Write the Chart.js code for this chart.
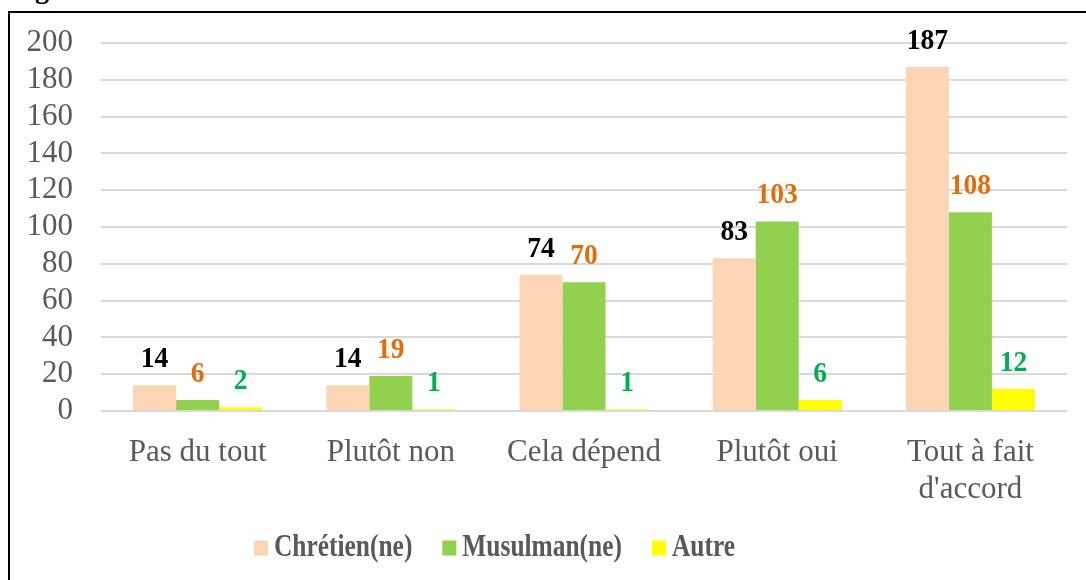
<!DOCTYPE html>
<html>
<head>
<meta charset="utf-8">
<script src="https://cdn.jsdelivr.net/npm/chart.js@4/dist/chart.umd.min.js"></script>
<style>
  html, body { margin: 0; padding: 0; background: #fff; width: 1086px; height: 580px; overflow: hidden; }
  #frame { position: absolute; left: 8px; top: 11px; width: 1090px; height: 600px; border-left: 2px solid #000; border-top: 2px solid #000; }
  #cap { position: absolute; left: 10px; top: -25px; font: bold 28px "Liberation Serif", "Times New Roman", serif; line-height: 28px; color: #000; white-space: nowrap; }
  #wrap { position: absolute; left: 10px; top: 13px; width: 1076px; height: 567px; }
</style>
</head>
<body>
<div id="cap">Figure</div>
<div id="frame"></div>
<div id="wrap"><canvas id="c"></canvas></div>
<script>
const categories = ['Pas du tout', 'Plutôt non', 'Cela dépend', 'Plutôt oui', ['Tout à fait', "d'accord"]];
const seriesNames = ['Chrétien(ne)', 'Musulman(ne)', 'Autre'];
const chretien = [14, 14, 74, 83, 187];
const musulman = [6, 19, 70, 103, 108];
const autre = [2, 1, 1, 6, 12];
const yTicks = [0, 20, 40, 60, 80, 100, 120, 140, 160, 180, 200];

const barColors = ['#FBD5B5', '#92D050', '#FFFF00'];
const labelColors = ['#000000', '#E46C0A', '#00B050'];
const SERIF = '"Liberation Serif", "Times New Roman", serif';

const valueLabels = {
  id: 'valueLabels',
  afterDatasetsDraw(chart) {
    const ctx = chart.ctx;
    ctx.save();
    ctx.font = 'bold 29px ' + SERIF;
    ctx.textAlign = 'center';
    ctx.textBaseline = 'alphabetic';
    chart.data.datasets.forEach((ds, i) => {
      const meta = chart.getDatasetMeta(i);
      ctx.fillStyle = labelColors[i];
      meta.data.forEach((bar, j) => {
        const sx = 0.95;
        ctx.save();
        ctx.translate(bar.x, bar.y - 18);
        ctx.scale(sx, 1);
        ctx.fillText(String(ds.data[j]), 0, 0);
        ctx.restore();
      });
    });
    ctx.restore();
  }
};

const customLegend = {
  id: 'customLegend',
  afterDraw(chart) {
    const ctx = chart.ctx;
    ctx.save();
    ctx.font = 'bold 31px ' + SERIF;
    ctx.textBaseline = 'middle';
    ctx.textAlign = 'left';
    const cy = 534;
    const sx = 0.82;
    const gapBox = 6, gapItem = 30, boxW = 14, boxH = 15;
    const widths = seriesNames.map(n => ctx.measureText(n).width * sx);
    let x = 244;
    seriesNames.forEach((n, i) => {
      ctx.fillStyle = barColors[i];
      ctx.fillRect(x, cy - boxH / 2 + 1, boxW, boxH);
      x += boxW + gapBox;
      ctx.fillStyle = '#595959';
      ctx.save();
      ctx.translate(x, cy + 1);
      ctx.scale(sx, 1);
      ctx.fillText(n, 0, 0);
      ctx.restore();
      x += widths[i] + gapItem;
    });
    ctx.restore();
  }
};

new Chart(document.getElementById('c'), {
  type: 'bar',
  data: {
    labels: categories,
    datasets: [
      { label: seriesNames[0], data: chretien, backgroundColor: barColors[0] },
      { label: seriesNames[1], data: musulman, backgroundColor: barColors[1] },
      { label: seriesNames[2], data: autre, backgroundColor: barColors[2] }
    ]
  },
  options: {
    responsive: true,
    maintainAspectRatio: false,
    animation: false,
    layout: { padding: { top: 30, right: 19, bottom: 0, left: 0 } },
    datasets: { bar: { categoryPercentage: 0.668, barPercentage: 1.0, borderWidth: 0 } },
    plugins: { legend: { display: false }, tooltip: { enabled: false } },
    scales: {
      x: {
        grid: { display: false },
        border: { display: false },
        ticks: { color: '#595959', font: { family: SERIF, size: 31, lineHeight: 1.2 }, padding: 15, maxRotation: 0, autoSkip: false },
        afterFit(s) { s.height = 169; s.paddingLeft = 0; s.paddingRight = 0; }
      },
      y: {
        min: 0, max: 200,
        afterBuildTicks(s) { s.ticks = yTicks.map(v => ({ value: v })); },
        grid: { color: '#D9D9D9', lineWidth: 2, drawTicks: false },
        border: { display: false },
        ticks: { color: '#595959', font: { family: SERIF, size: 31 }, padding: 28, autoSkip: false },
        afterFit(s) { s.width = 91; s.paddingTop = 0; s.paddingBottom = 0; }
      }
    }
  },
  plugins: [valueLabels, customLegend]
});
</script>
</body>
</html>
